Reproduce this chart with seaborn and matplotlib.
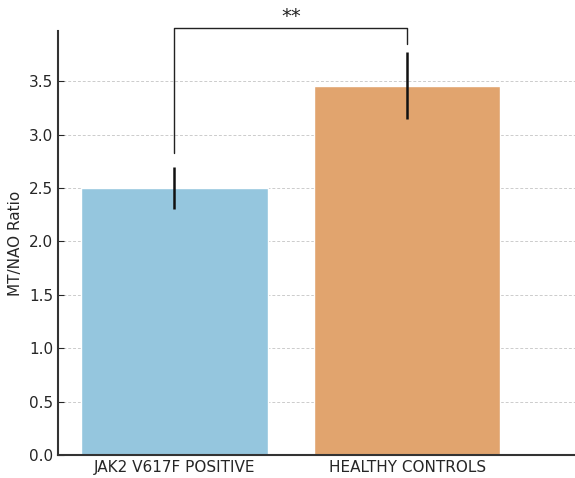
import numpy as np
import pandas as pd
import matplotlib
matplotlib.use("Agg")
import matplotlib.pyplot as plt
import seaborn as sns

# ---- data ----
groups = ["JAK2 V617F POSITIVE", "HEALTHY CONTROLS"]
ratio_mean = [2.50, 3.46]
ratio_err = [0.20, 0.31]
bar_colors = ["#95c6de", "#e1a46e"]
sig_label = "**"
sig_height = 4.0

df = pd.DataFrame({"group": groups, "ratio": ratio_mean})

sns.set_style("white")
plt.rcParams["font.family"] = ["DejaVu Sans"]

fig = plt.figure(figsize=(5.75, 4.78), dpi=100)
ax = fig.add_axes([0.101, 0.048, 0.899, 0.887])

sns.barplot(data=df, x="group", y="ratio", hue="group", palette=bar_colors,
            width=0.8, legend=False, ax=ax, errorbar=None, saturation=1)
ax.errorbar(range(len(groups)), ratio_mean, yerr=ratio_err, fmt="none",
            ecolor="#111111", elinewidth=1.8, capsize=0)

# significance bracket
x1, x2 = 0, 1
ax.plot([x1, x1, x2, x2],
        [ratio_mean[0] + ratio_err[0] + 0.13, sig_height, sig_height,
         ratio_mean[1] + ratio_err[1] + 0.08],
        color="#222222", lw=1.0, clip_on=False)
ax.text((x1 + x2) / 2, sig_height + 0.02, sig_label, ha="center", va="bottom",
        fontsize=14, color="#222222", clip_on=False)

ax.set_xlim(-0.5, 1.72)
ax.set_ylim(0, 3.97)
ax.set_yticks(np.arange(0, 4.0, 0.5))
ax.yaxis.grid(True, linestyle=(0, (3, 2)), color="#cccccc", lw=0.7)
ax.set_axisbelow(True)
ax.set_xlabel("")
ax.set_ylabel("MT/NAO Ratio", fontsize=11)
ax.tick_params(axis="both", labelsize=11, direction="in", length=4,
               left=True, bottom=True)
sns.despine(ax=ax, top=True, right=True)
for s in ["left", "bottom"]:
    ax.spines[s].set_color("#333333")
    ax.spines[s].set_linewidth(1.5)

fig.savefig("out.png", dpi=100)
